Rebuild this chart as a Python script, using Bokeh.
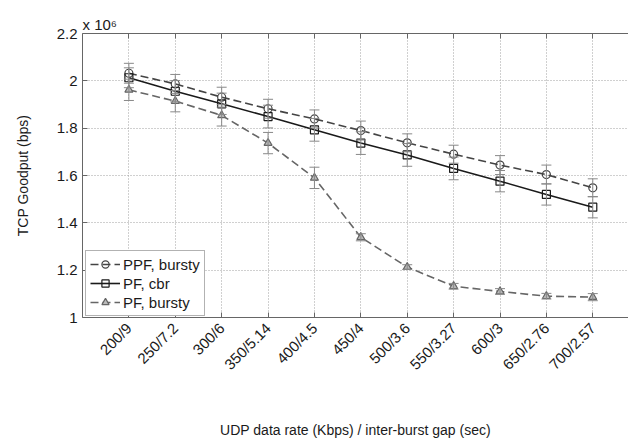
import math
from bokeh.plotting import figure
from bokeh.models import (ColumnDataSource, FixedTicker, Whisker, TeeHead, Legend,
                          LegendItem, LinearAxis, Title, Range1d)
from bokeh.embed import file_html
from bokeh.resources import INLINE

categories = ["200/9", "250/7.2", "300/6", "350/5.14", "400/4.5", "450/4",
              "500/3.6", "550/3.27", "600/3", "650/2.76", "700/2.57"]
ppf_bursty = [2.032, 1.987, 1.931, 1.882, 1.839, 1.790, 1.738, 1.690, 1.644, 1.604, 1.548]
ppf_bursty_err = [0.042, 0.040, 0.042, 0.040, 0.038, 0.040, 0.038, 0.038, 0.040, 0.040, 0.038]
pf_cbr = [2.013, 1.956, 1.903, 1.849, 1.793, 1.737, 1.687, 1.630, 1.576, 1.520, 1.466]
pf_cbr_err = [0.042, 0.045, 0.045, 0.048, 0.048, 0.048, 0.048, 0.048, 0.045, 0.045, 0.045]
pf_bursty = [1.962, 1.914, 1.854, 1.737, 1.590, 1.339, 1.213, 1.132, 1.110, 1.090, 1.086]
pf_bursty_err = [0.045, 0.045, 0.045, 0.045, 0.045, 0.015, 0.010, 0.012, 0.012, 0.012, 0.015]
y_ticks = [1.0, 1.2, 1.4, 1.6, 1.8, 2.0, 2.2]
y_tick_labels = ["1", "1.2", "1.4", "1.6", "1.8", "2", "2.2"]

FONT = "Liberation Sans"
xs = list(range(1, len(categories) + 1))

p = figure(width=628, height=441, output_backend="svg", toolbar_location=None,
           x_range=Range1d(0, 11.77), y_range=Range1d(1.0, 2.2),
           min_border_left=82, min_border_top=33, min_border_right=0,
           min_border_bottom=124)
p.outline_line_color = None
p.background_fill_color = "white"
p.border_fill_color = "white"

# grid
for g in (p.xgrid, p.ygrid):
    g.grid_line_color = "#a0a0a0"
    g.grid_line_dash = "1 2"
    g.grid_line_width = 1
p.xgrid.ticker = FixedTicker(ticks=xs)
p.ygrid.ticker = FixedTicker(ticks=y_ticks)

# axes
xa = p.xaxis[0]
xa.ticker = FixedTicker(ticks=xs)
xa.major_label_overrides = {x: c for x, c in zip(xs, categories)}
xa.major_label_orientation = math.pi / 4
xa.axis_label = "UDP data rate (Kbps) / inter-burst gap (sec)"
xa.axis_label_standoff = 40
ya = p.yaxis[0]
ya.ticker = FixedTicker(ticks=y_ticks)
ya.major_label_overrides = {t: l for t, l in zip(y_ticks, y_tick_labels)}
ya.axis_label = "TCP Goodput (bps)"
ya.axis_label_standoff = 23
for a in (xa, ya):
    a.axis_line_color = "#666666"
    a.major_tick_line_color = "#666666"
    a.major_tick_in = 5
    a.major_tick_out = 0
    a.minor_tick_line_color = None
    a.major_label_text_font = FONT
    a.major_label_text_font_size = "15px"
    a.major_label_text_color = "#1a1a1a"
    a.axis_label_text_font = FONT
    a.axis_label_text_font_size = "14px"
    a.axis_label_text_font_style = "normal"
    a.axis_label_text_color = "#1a1a1a"
xa.major_label_standoff = 8
ya.major_label_standoff = 5

top = LinearAxis(ticker=FixedTicker(ticks=xs), axis_line_color="#666666",
                 major_tick_line_color="#666666", major_tick_in=5, major_tick_out=0,
                 minor_tick_line_color=None, major_label_text_font_size="0px",
                 major_label_standoff=0)
p.add_layout(top, "above")

# exponent
p.add_layout(Title(text="x 10\u2076", align="left", offset=0, standoff=1,
                   text_font=FONT, text_font_size="15px", text_font_style="normal",
                   text_color="#1a1a1a"), "above")

def add_series(vals, errs, marker, color, dash, fill):
    src = ColumnDataSource(dict(x=xs, y=vals,
                                lo=[v - e for v, e in zip(vals, errs)],
                                hi=[v + e for v, e in zip(vals, errs)]))
    w = Whisker(source=src, base="x", lower="lo", upper="hi", dimension="height",
                line_color="#888888", line_width=1, level="glyph")
    w.upper_head = TeeHead(size=10, line_color="#888888", line_width=1)
    w.lower_head = TeeHead(size=10, line_color="#888888", line_width=1)
    p.add_layout(w)
    ln = p.line("x", "y", source=src, line_color=color, line_width=1.6, line_dash=dash)
    sc = p.scatter("x", "y", source=src, marker=marker, size=8, line_color=color,
                   fill_color=fill, line_width=1.2)
    return [ln, sc]

r1 = add_series(ppf_bursty, ppf_bursty_err, "circle", "#444444", "8 4", None)
r2 = add_series(pf_cbr, pf_cbr_err, "square", "#1a1a1a", "solid", None)
r3 = add_series(pf_bursty, pf_bursty_err, "triangle", "#666666", "8 4", "#bbbbbb")

legend = Legend(items=[LegendItem(label="PPF, bursty", renderers=r1),
                       LegendItem(label="PF, cbr", renderers=r2),
                       LegendItem(label="PF, bursty", renderers=r3)],
                location=(3, 1))
legend.label_text_font = FONT
legend.label_text_font_size = "15px"
legend.label_text_color = "#1a1a1a"
legend.border_line_color = "#666666"
legend.border_line_width = 1.5
legend.background_fill_alpha = 1
legend.glyph_width = 30
legend.glyph_height = 18
legend.label_height = 18
legend.spacing = 1
legend.padding = 4
legend.margin = 0
legend.label_standoff = 3
p.add_layout(legend, "center")

open("out.html", "w").write(file_html(p, INLINE))
